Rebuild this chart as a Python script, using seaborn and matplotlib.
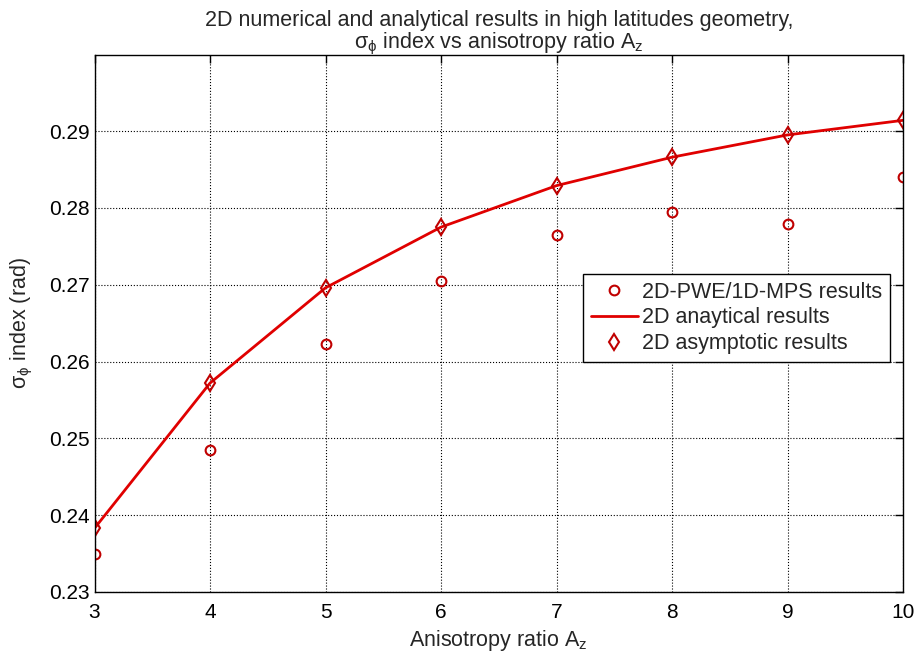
import seaborn as sns
import matplotlib.pyplot as plt

# datos
ratio = [3, 4, 5, 6, 7, 8, 9, 10]
numerico = [0.2350, 0.2485, 0.2623, 0.2705, 0.2765, 0.2795, 0.2779, 0.2840]
analitico = [0.2383, 0.2572, 0.2696, 0.2775, 0.2829, 0.2866, 0.2895, 0.2914]
asintotico = [0.2383, 0.2572, 0.2696, 0.2775, 0.2829, 0.2866, 0.2895, 0.2914]
yticks = [0.23, 0.24, 0.25, 0.26, 0.27, 0.28, 0.29]

sns.set_style("white")
plt.rcParams['font.family'] = ['Liberation Sans', 'DejaVu Sans']
plt.rcParams['mathtext.fontset'] = 'custom'
plt.rcParams['mathtext.rm'] = 'Liberation Sans'

fig = plt.figure(figsize=(9.18, 6.55), dpi=100)
ax = fig.add_axes([0.103, 0.0962, 0.8807, 0.8198])

rojo = '#e00000'
sns.lineplot(x=ratio, y=numerico, ax=ax, marker='o', linestyle='', markersize=7,
             markerfacecolor='none', markeredgecolor='#c00000', markeredgewidth=1.5,
             label='2D-PWE/1D-MPS results')
sns.lineplot(x=ratio, y=analitico, ax=ax, color=rojo, linewidth=2,
             label='2D anaytical results')
sns.lineplot(x=ratio, y=asintotico, ax=ax, marker='d', linestyle='', markersize=8,
             markerfacecolor='none', markeredgecolor='#c00000', markeredgewidth=1.5,
             label='2D asymptotic results')

ax.set_xlim(3, 10)
ax.set_ylim(0.23, 0.2999)
ax.set_xticks(ratio)
ax.set_yticks(yticks)
ax.set_yticklabels([f"{v:.2f}" for v in yticks])
ax.tick_params(direction='in', length=6, width=1, labelsize=15, top=True, right=True,
               colors='black')
ax.tick_params(axis='x', pad=8)
ax.grid(True, linestyle=':', color='black', linewidth=0.8)
for s in ax.spines.values():
    s.set_color('black')
    s.set_linewidth(1)

ax.set_title('2D numerical and analytical results in high latitudes geometry,\n'
             r'$\mathregular{σ_ϕ}$ index vs anisotropy ratio $\mathregular{A_z}$',
             fontsize=15.5, pad=5, linespacing=1.0)
ax.set_xlabel(r'Anisotropy ratio $\mathregular{A_z}$', fontsize=15.5, labelpad=4)
ax.set_ylabel(r'$\mathregular{σ_ϕ}$ index (rad)', fontsize=15.5, labelpad=10)

leg = ax.legend(loc='upper right', bbox_to_anchor=(0.984, 0.592), fontsize=15.5,
                frameon=True, fancybox=False, edgecolor='black', framealpha=1,
                handlelength=2.2, handletextpad=0.2, borderpad=0.35,
                labelspacing=0.22, borderaxespad=0)
leg.get_frame().set_linewidth(1)

fig.savefig('out.png', dpi=100)
